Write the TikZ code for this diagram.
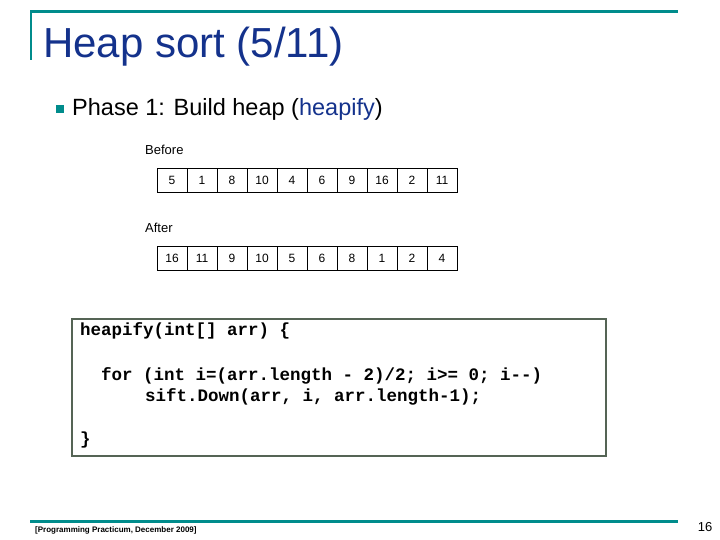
\documentclass[tikz,border=0pt]{standalone}
\usepackage{fontspec}
\setmainfont{Liberation Sans}
\newfontfamily\codefont{Liberation Mono}
\begin{document}
\begin{tikzpicture}[x=1pt,y=-1pt,
  cell/.style={draw,minimum width=30pt,minimum height=24pt,inner sep=0pt,font=\fontsize{12}{14}\selectfont},
  code/.style={anchor=west,inner sep=0pt,font=\codefont\bfseries\fontsize{17.5}{20}\selectfont}]
\definecolor{teal1}{RGB}{0,140,140}
\definecolor{navy1}{RGB}{20,50,140}
\definecolor{boxc}{RGB}{85,100,85}
\useasboundingbox (0,0) rectangle (720,540);
\draw[teal1,line width=3pt] (30,12) -- (678,12);
\draw[teal1,line width=2pt] (31,12) -- (31,60);
\node[anchor=west,inner sep=0pt,text=navy1,font=\fontsize{42}{46}\selectfont] (title) at (43,47) {Heap sort (5/11)};
\fill[teal1] (56,105) rectangle (64,113) ;
\node[anchor=west,inner sep=0pt,font=\fontsize{23.5}{27}\selectfont] (b1) at (72,109) {Phase 1: Build heap (\textcolor{navy1}{heapify})};
\node[anchor=west,inner sep=0pt,font=\fontsize{13}{15}\selectfont] (before) at (145,150) {Before};
\foreach \v [count=\i] in {5,1,8,10,4,6,9,16,2,11}
  \node[cell] (b\i) at (142+30*\i,180) {\v};
\node[anchor=west,inner sep=0pt,font=\fontsize{13}{15}\selectfont] (after) at (145,228) {After};
\foreach \v [count=\i] in {16,11,9,10,5,6,8,1,2,4}
  \node[cell] (a\i) at (142+30*\i,258) {\v};
\draw[boxc,line width=2.5pt] (72,319) rectangle (606,456);
\node[code] (c1) at (80,331) {heapify(int[] arr) \{};
\node[code] (c2) at (101,376) {for (int i=(arr.length - 2)/2; i>= 0; i--)};
\node[code] (c3) at (145,397) {sift.Down(arr, i, arr.length-1);};
\node[code] (c4) at (80,440) {\}};
\draw[teal1,line width=3pt] (30,521) -- (678,521);
\node[anchor=west,inner sep=0pt,font=\bfseries\fontsize{8}{9}\selectfont] (foot) at (35,530) {[Programming Practicum, December 2009]};
\node[inner sep=0pt,font=\fontsize{13}{15}\selectfont] (pg) at (705,527) {16};
\end{tikzpicture}
\end{document}
